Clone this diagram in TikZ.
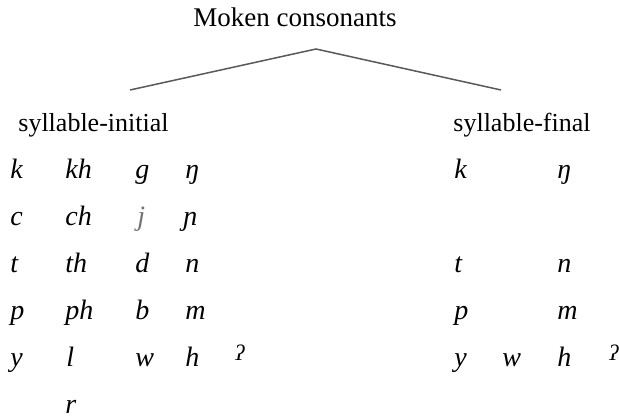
\documentclass[tikz,border=0pt]{standalone}
\usepackage{fontspec}
\setmainfont{Liberation Serif}
\usepackage{tikz}

\tikzset{
  lbl/.style={inner sep=0pt, anchor=base west, font=\fontsize{13.5}{16}\selectfont},
  sublbl/.style={lbl, font=\fontsize{13}{16}\selectfont},
  seg/.style={inner sep=0pt, anchor=base west, font=\fontsize{14}{16}\selectfont\itshape},
  glot/.style={inner sep=0pt, anchor=base west, font=\fontsize{11}{12}\selectfont\itshape},
  branch/.style={draw=black!65, line width=0.75pt}
}

\begin{document}
\begin{tikzpicture}[x=0.5pt, y=-0.5pt]
        \useasboundingbox (0,0) rectangle (619,417);

        % Tree heading
        \node[lbl] (title) at (193,27) {Moken consonants};
        \coordinate (apex) at (316,49);
        \coordinate (initend) at (130,90);
        \coordinate (finend) at (501,90);
        \draw[branch] (initend) -- (apex) -- (finend);
        \node[sublbl] (init) at (18,131) {syllable-initial};
        \node[sublbl] (fin) at (453,131) {syllable-final};

        % Syllable-initial consonants
        \node[seg] (ik) at (10,178) {k};
        \node[seg] (ikh) at (65,178) {kh};
        \node[seg] (ig) at (135,178) {g};
        \node[seg] (ieng) at (185,178) {ŋ};
        \node[seg] (ic) at (10,225) {c};
        \node[seg] (ich) at (65,225) {ch};
        \node[seg, text=black!55] (ij) at (137,225) {j};
        \node[seg] (iny) at (183,225) {ɲ};
        \node[seg] (it) at (10,272) {t};
        \node[seg] (ith) at (65,272) {th};
        \node[seg] (id) at (135,272) {d};
        \node[seg] (in) at (185,272) {n};
        \node[seg] (ip) at (10,319) {p};
        \node[seg] (iph) at (65,319) {ph};
        \node[seg] (ib) at (135,319) {b};
        \node[seg] (im) at (185,319) {m};
        \node[seg] (iy) at (10,366) {y};
        \node[seg] (il) at (66,366) {l};
        \node[seg] (iw) at (135,366) {w};
        \node[seg] (ih) at (185,366) {h};
        \node[glot] (iq) at (235,360) {ʔ};
        \node[seg] (ir) at (65,413) {r};

        % Syllable-final consonants
        \node[seg] (fk) at (454,178) {k};
        \node[seg] (feng) at (557,178) {ŋ};
        \node[seg] (ft) at (454,272) {t};
        \node[seg] (fn) at (557,272) {n};
        \node[seg] (fp) at (454,319) {p};
        \node[seg] (fm) at (557,319) {m};
        \node[seg] (fy) at (454,366) {y};
        \node[seg] (fw) at (502,366) {w};
        \node[seg] (fh) at (557,366) {h};
        \node[glot] (fq) at (609,360) {ʔ};
    \end{tikzpicture}
\end{document}
